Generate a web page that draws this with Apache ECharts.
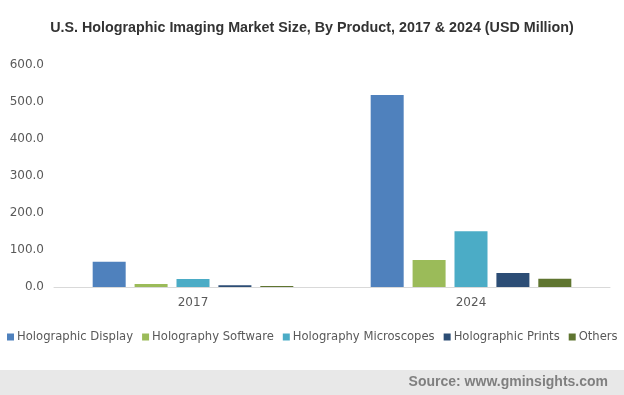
<!DOCTYPE html>
<html><head><meta charset="utf-8">
<script src="https://cdn.jsdelivr.net/npm/echarts@6/dist/echarts.min.js"></script>
<style>html,body{margin:0;padding:0;background:#fff}#c{width:624px;height:395px}</style>
</head><body><div id="c"></div>
<script>
var categories = ['2017', '2024'];
var seriesNames = ['Holographic Display', 'Holography Software', 'Holography Microscopes', 'Holographic Prints', 'Others'];
var holographicDisplay = [68, 519];
var holographySoftware = [8, 73];
var holographyMicroscopes = [21.5, 151];
var holographicPrints = [5, 38];
var others = [3, 22];
var yTicks = [0, 100, 200, 300, 400, 500, 600];

var values = [holographicDisplay, holographySoftware, holographyMicroscopes, holographicPrints, others];
var colors = ['#4f81bd', '#9bbb59', '#4bacc6', '#2c4d75', '#5f7530'];

var chart = echarts.init(document.getElementById('c'));
chart.setOption({
  animation: false,
  title: {
    text: 'U.S. Holographic Imaging Market Size, By Product, 2017 & 2024 (USD Million)',
    left: 'center', top: 16,
    textStyle: { fontFamily: 'Liberation Sans', fontWeight: 'bold', fontSize: 14.3, color: '#333333' }
  },
  legend: {
    top: 331, left: 7, width: 700, padding: 0,
    itemWidth: 7, itemHeight: 7, itemGap: 9,
    icon: 'rect',
    textStyle: { fontFamily: 'DejaVu Sans', fontSize: 11.6, color: '#595959', padding: [0, 0, 0, -2] },
    data: seriesNames
  },
  grid: { left: 54, right: 14, top: 65, bottom: 108 },
  xAxis: {
    type: 'category', data: categories,
    axisLine: { lineStyle: { color: '#d9d9d9', width: 1 } },
    axisTick: { show: false },
    axisLabel: { fontFamily: 'DejaVu Sans', fontSize: 12, color: '#595959', margin: 10 }
  },
  yAxis: {
    type: 'value', min: yTicks[0], max: yTicks[yTicks.length - 1], interval: 100,
    axisLine: { show: false }, axisTick: { show: false }, splitLine: { show: false },
    axisLabel: { fontFamily: 'DejaVu Sans', fontSize: 12, color: '#595959', margin: 10,
      formatter: function (v) { return v.toFixed(1); } }
  },
  series: seriesNames.map(function (n, i) {
    return { name: n, type: 'bar', data: values[i], barWidth: 33, barGap: '27%',
      itemStyle: { color: colors[i] } };
  }),
  graphic: [
    { type: 'rect', left: 0, top: 370, shape: { width: 624, height: 25 }, style: { fill: '#e8e8e8' }, z: -1 },
    { type: 'text', right: 16, top: 375, style: { text: 'Source: www.gminsights.com',
      font: 'bold 14px "Liberation Sans"', fill: '#7f7f7f' } }
  ]
});
</script></body></html>
